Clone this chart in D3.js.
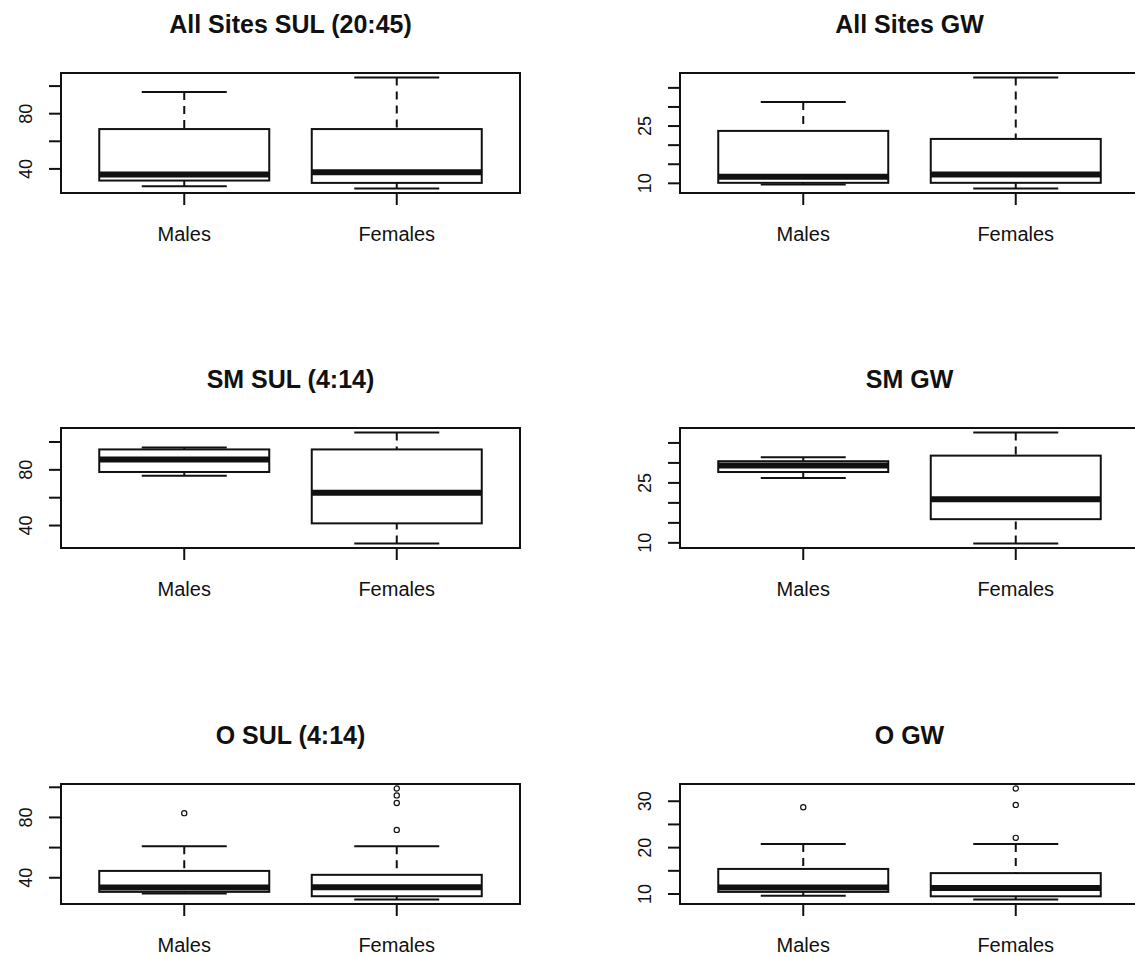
<!DOCTYPE html>
<html>
<head>
<meta charset="utf-8">
<script src="https://cdn.jsdelivr.net/npm/d3@7"></script>
<style>
  body { margin: 0; background: #fff; }
  text { font-family: "Liberation Sans", Arial, sans-serif; fill: #111; }
</style>
</head>
<body>
<div id="chart"></div>
<script>
// Groups and panel titles
var groups = ["Males", "Females"];
var panelTitles = ["All Sites SUL (20:45)", "All Sites GW", "SM SUL (4:14)", "SM GW", "O SUL (4:14)", "O GW"];

// Box stats per group: [lower whisker, Q1, median, Q3, upper whisker]
var allSulStats = [[27.0, 31.2, 35.6, 68.5, 95.4], [25.4, 29.5, 37.3, 68.5, 105.9]];
var allGwStats = [[9.55, 10.0, 11.6, 23.6, 31.2], [8.5, 10.0, 12.2, 21.5, 37.6]];
var smSulStats = [[75.4, 78.1, 87.1, 94.3, 95.6], [26.7, 41.2, 63.1, 94.3, 106.5]];
var smGwStats = [[26.1, 27.6, 29.2, 30.3, 31.3], [9.7, 15.8, 20.8, 31.7, 37.5]];
var oSulStats = [[29.2, 30.3, 33.2, 44.2, 60.6], [25.2, 27.4, 33.3, 41.6, 60.6]];
var oGwStats = [[9.5, 10.35, 11.3, 15.3, 20.7], [8.7, 9.4, 11.2, 14.4, 20.7]];

// Outliers per group
var noOutliers = [[], []];
var oSulOutliers = [[82.5], [71.4, 89.2, 94.3, 98.9]];
var oGwOutliers = [[28.6], [22.0, 29.1, 32.65]];

// Y ticks and which of them carry a label
var sulTicks = [40, 60, 80, 100];
var sulTickLabels = [40, 80];
var gwTicks = [10, 15, 20, 25, 30, 35];
var gwTickLabels = [10, 25];
var oGwTicks = [10, 15, 20, 25, 30];
var oGwTickLabels = [10, 20, 30];

var panels = [
    { title: panelTitles[0], stats: allSulStats, outliers: noOutliers, ticks: sulTicks, labels: sulTickLabels },
    { title: panelTitles[1], stats: allGwStats, outliers: noOutliers, ticks: gwTicks, labels: gwTickLabels },
    { title: panelTitles[2], stats: smSulStats, outliers: noOutliers, ticks: sulTicks, labels: sulTickLabels },
    { title: panelTitles[3], stats: smGwStats, outliers: noOutliers, ticks: gwTicks, labels: gwTickLabels },
    { title: panelTitles[4], stats: oSulStats, outliers: oSulOutliers, ticks: sulTicks, labels: sulTickLabels },
    { title: panelTitles[5], stats: oGwStats, outliers: oGwOutliers, ticks: oGwTicks, labels: oGwTickLabels }
];

// Layout
var svgWidth = 1135;
var svgHeight = 957;
var colLeft = [61, 680];
var rowTop = [73, 428, 784];
var plotWidth = 459;
var plotHeight = 120;

var svg = d3.select("#chart")
    .append("svg")
    .attr("width", svgWidth)
    .attr("height", svgHeight);

svg.append("rect")
    .attr("width", svgWidth)
    .attr("height", svgHeight)
    .attr("fill", "#fff");

panels.forEach(function(p, i) {
    var col = i % 2;
    var row = Math.floor(i / 2);
    var g = svg.append("g")
        .attr("transform", `translate(${colLeft[col]}, ${rowTop[row]})`);

    // y range like R: data range padded by 4%
    var all = p.stats.flat().concat(p.outliers.flat());
    var ext = d3.extent(all);
    var pad = (ext[1] - ext[0]) * 0.04;

    var yScale = d3.scaleLinear()
        .domain([ext[0] - pad, ext[1] + pad])
        .range([plotHeight, 0]);

    var xScale = d3.scaleBand()
        .domain(groups)
        .range([0, plotWidth])
        .paddingInner(0.2)
        .paddingOuter(0.18);

    var bw = xScale.bandwidth();

    // left axis
    var leftAxis = d3.axisLeft(yScale)
        .tickValues(p.ticks)
        .tickSize(12)
        .tickSizeOuter(0)
        .tickFormat(d => p.labels.indexOf(d) >= 0 ? d : "");
    var ya = g.append("g").call(leftAxis);
    ya.select(".domain").remove();
    ya.selectAll("line").attr("stroke", "#111").attr("stroke-width", 2);
    ya.selectAll("text")
        .attr("transform", "rotate(-90)")
        .attr("x", 0)
        .attr("y", -29)
        .attr("dy", 0)
        .style("text-anchor", "middle")
        .attr("font-size", 18)
        .attr("fill", "#111");

    // bottom axis
    var bottomAxis = d3.axisBottom(xScale)
        .tickSize(12)
        .tickSizeOuter(0);
    var xa = g.append("g")
        .attr("transform", `translate(0, ${plotHeight})`)
        .call(bottomAxis);
    xa.select(".domain").remove();
    xa.selectAll("line").attr("stroke", "#111").attr("stroke-width", 2);
    xa.selectAll("text")
        .attr("y", 48)
        .attr("dy", 0)
        .attr("font-size", 20)
        .attr("fill", "#111");

    // boxes
    var boxes = g.selectAll("g.box")
        .data(p.stats)
        .enter()
        .append("g")
        .attr("class", "box")
        .attr("transform", (d, j) => `translate(${xScale(groups[j]) + bw / 2}, 0)`);

    // whiskers (dashed)
    boxes.append("line")
        .attr("x1", 0).attr("x2", 0)
        .attr("y1", d => yScale(d[4]))
        .attr("y2", d => yScale(d[3]))
        .attr("stroke", "#111").attr("stroke-width", 2)
        .attr("stroke-dasharray", "8,6");
    boxes.append("line")
        .attr("x1", 0).attr("x2", 0)
        .attr("y1", d => yScale(d[0]))
        .attr("y2", d => yScale(d[1]))
        .attr("stroke", "#111").attr("stroke-width", 2)
        .attr("stroke-dasharray", "8,6");

    // staples
    [0, 4].forEach(function(k) {
        boxes.append("line")
            .attr("x1", -bw / 4).attr("x2", bw / 4)
            .attr("y1", d => yScale(d[k]))
            .attr("y2", d => yScale(d[k]))
            .attr("stroke", "#111").attr("stroke-width", 2);
    });

    // box
    boxes.append("rect")
        .attr("x", -bw / 2)
        .attr("width", bw)
        .attr("y", d => yScale(d[3]))
        .attr("height", d => yScale(d[1]) - yScale(d[3]))
        .attr("fill", "#fff")
        .attr("stroke", "#111")
        .attr("stroke-width", 2);

    // median
    boxes.append("line")
        .attr("x1", -bw / 2).attr("x2", bw / 2)
        .attr("y1", d => yScale(d[2]))
        .attr("y2", d => yScale(d[2]))
        .attr("stroke", "#111").attr("stroke-width", 6);

    // outliers
    p.outliers.forEach(function(pts, j) {
        g.selectAll(null)
            .data(pts)
            .enter()
            .append("circle")
            .attr("cx", xScale(groups[j]) + bw / 2)
            .attr("cy", d => yScale(d))
            .attr("r", 2.6)
            .attr("fill", "none")
            .attr("stroke", "#111")
            .attr("stroke-width", 1.2);
    });

    // frame
    g.append("rect")
        .attr("width", plotWidth)
        .attr("height", plotHeight)
        .attr("fill", "none")
        .attr("stroke", "#111")
        .attr("stroke-width", 2);

    // title
    g.append("text")
        .attr("x", plotWidth / 2)
        .attr("y", -40)
        .style("text-anchor", "middle")
        .attr("font-size", 25)
        .attr("font-weight", "bold")
        .text(p.title);
});
</script>
</body>
</html>
